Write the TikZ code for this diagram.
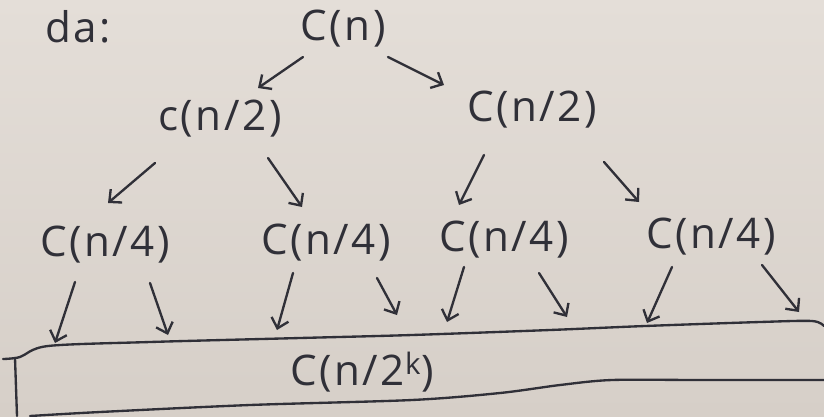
\documentclass[tikz,border=0pt]{standalone}
\usepackage{fontspec}
\setmainfont{Open Sans}[LetterSpace=6]
\usetikzlibrary{arrows.meta,calc}
\definecolor{paper}{RGB}{228,222,216}
\definecolor{paperdark}{RGB}{214,207,200}
\definecolor{ink}{RGB}{48,48,56}
\begin{document}
\begin{tikzpicture}[x=0.03cm,y=-0.03cm,
  lbl/.style={font=\fontsize{36}{40}\selectfont, text=ink, inner sep=0pt},
  arr/.style={draw=ink, line width=2pt, line cap=round, line join=round,
    -{Straight Barb[length=8pt,width=15pt,line width=2pt]}},
  rulestroke/.style={draw=ink, line width=2pt, line cap=round, line join=round}]
% paper
\shade[top color=paper, bottom color=paperdark] (0,0) rectangle (824,416);
\useasboundingbox (0,0) rectangle (824,416);

% recursion tree labels
\node[lbl] (da)   at (78,27)   {da:};
\node[lbl] (root) at (343,29)  {C(n)};
\node[lbl] (l2a)  at (220,119) {c(n/2)};
\node[lbl] (l2b)  at (532,110) {C(n/2)};
\node[lbl] (l3a)  at (105,245) {C(n/4)};
\node[lbl] (l3b)  at (326,243) {C(n/4)};
\node[lbl] (l3c)  at (504,240) {C(n/4)};
\node[lbl] (l3d)  at (711,237) {C(n/4)};
\node[lbl] (last) at (362,372) {C(n/2\textsuperscript{k})};

% level band holding the last row
\draw[rulestroke] plot[smooth] coordinates {(3,359) (20,357) (48,346) (150,342) (300,338) (412,335) (550,330) (645,326) (760,322) (812,321) (824,326)};
\draw[rulestroke] (15,358) -- (17,416);
\draw[rulestroke] plot[smooth] coordinates {(30,416) (100,412) (250,405) (412,400) (500,393) (560,385) (612,380) (700,380) (824,380)};

% arrow targets on the band
\coordinate (b1) at (55,343);
\coordinate (b2) at (168,335);
\coordinate (b3) at (277,330);
\coordinate (b4) at (397,315);
\coordinate (b5) at (447,322);
\coordinate (b6) at (567,317);
\coordinate (b7) at (647,323);
\coordinate (b8) at (799,312);

% tree arrows
\draw[arr] ($(root)+(-40,28)$) -- ($(l2a)+(38,-31)$);
\draw[arr] ($(root)+(45,28)$)  -- ($(l2b)+(-88,-25)$);
\draw[arr] ($(l2a)+(-65,44)$)  -- ($(l3a)+(3,-42)$);
\draw[arr] ($(l2a)+(48,39)$)   -- ($(l3b)+(-24,-36)$);
\draw[arr] ($(l2b)+(-48,45)$)  -- ($(l3c)+(-45,-35)$);
\draw[arr] ($(l2b)+(72,52)$)   -- ($(l3d)+(-72,-35)$);

\draw[arr] ($(l3a)+(-30,37)$) -- (b1);
\draw[arr] ($(l3a)+(45,38)$)  -- (b2);
\draw[arr] ($(l3b)+(-33,30)$) -- (b3);
\draw[arr] ($(l3b)+(51,35)$)  -- (b4);
\draw[arr] ($(l3c)+(-40,27)$) -- (b5);
\draw[arr] ($(l3c)+(35,33)$)  -- (b6);
\draw[arr] ($(l3d)+(-39,30)$) -- (b7);
\draw[arr] ($(l3d)+(51,28)$)  -- (b8);
\end{tikzpicture}
\end{document}
